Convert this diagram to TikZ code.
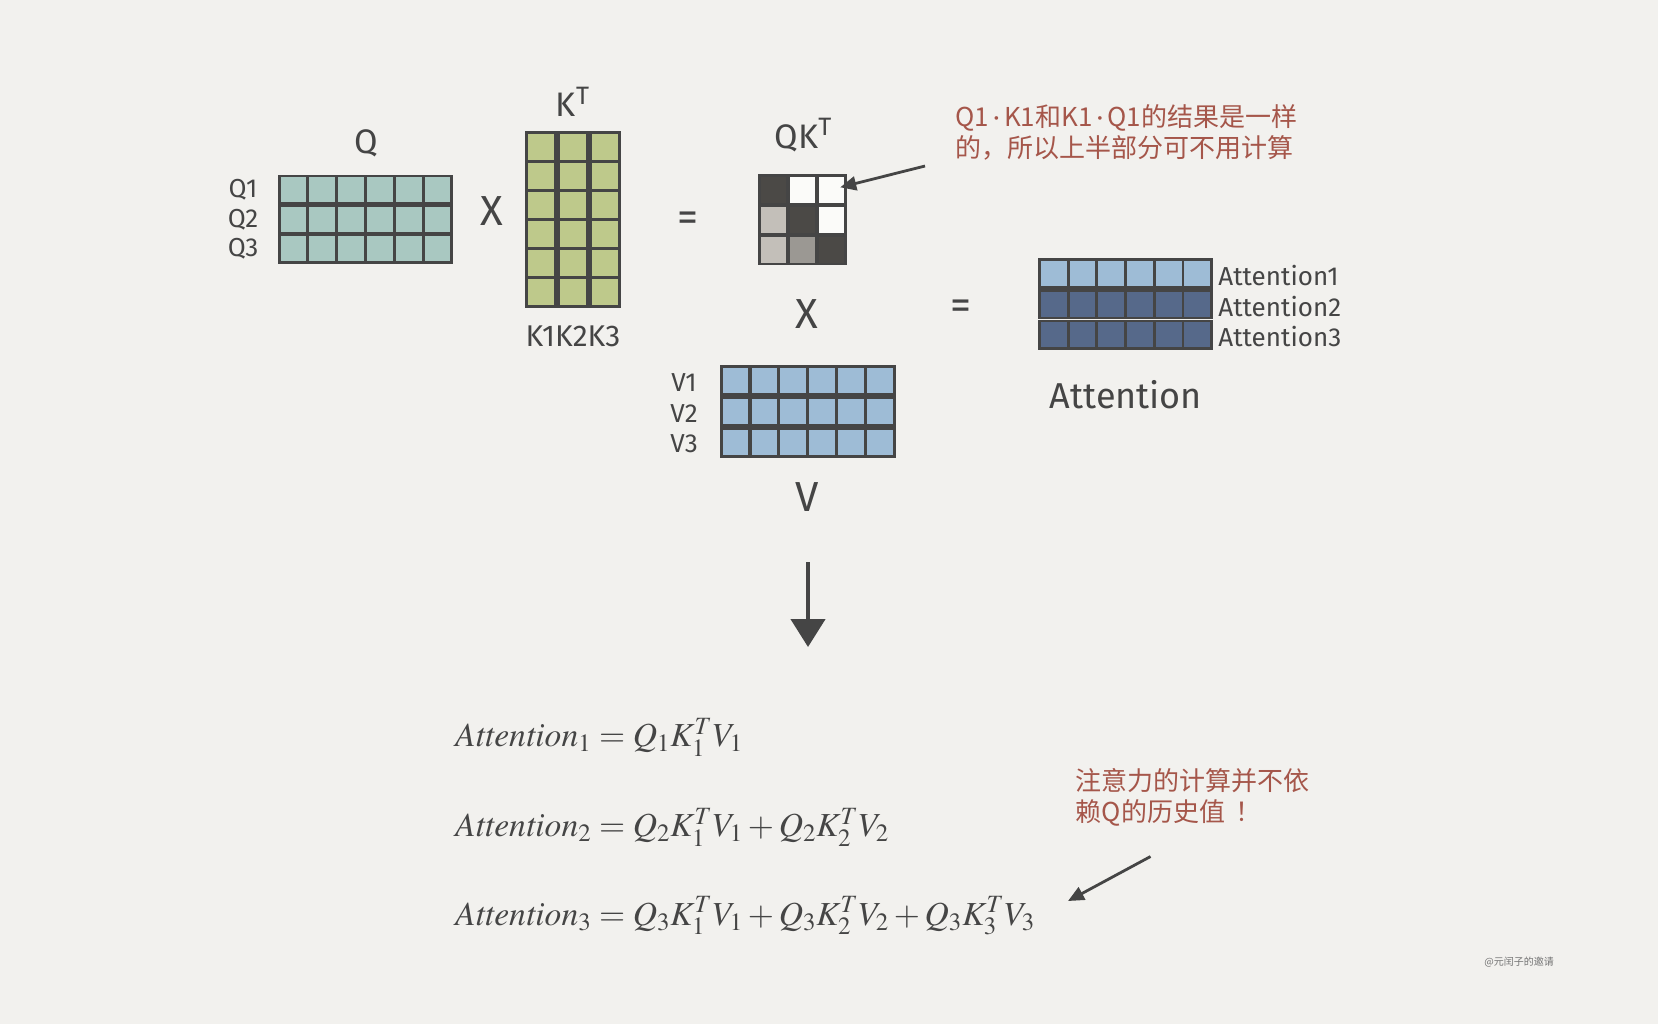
\documentclass[tikz,border=0pt]{standalone}
\usepackage{mathptmx}
\usepackage[no-math]{fontspec}
\setmainfont{Fira Sans}
\newfontfamily\cjk{Noto Sans CJK SC}
\usetikzlibrary{arrows.meta, calc}
\definecolor{paper}{HTML}{F2F1EE}
\definecolor{inkGray}{HTML}{454545}
\definecolor{noteRed}{HTML}{A5564A}
\definecolor{qTeal}{HTML}{A9C8C1}
\definecolor{kOlive}{HTML}{BEC98B}
\definecolor{vBlue}{HTML}{9EBCD6}
\definecolor{attDark}{HTML}{56698A}
\definecolor{qkDark}{HTML}{4B4946}
\definecolor{qkMid}{HTML}{9B9893}
\definecolor{qkLight}{HTML}{C3BFB9}
\definecolor{qkWhite}{HTML}{FBFBF9}

\begin{document}
\begin{tikzpicture}[
    x=0.5pt, y=-0.5pt,
    cell/.style={draw=inkGray, line width=1.3pt, minimum width=14.2pt, minimum height=13.8pt, inner sep=0pt, outer sep=0pt},
    qcell/.style={cell, fill=qTeal},
    kcell/.style={cell, fill=kOlive, minimum width=14.5pt, minimum height=14.3pt},
    vcell/.style={cell, fill=vBlue},
    lbl/.style={text=inkGray, font=\fontsize{13}{15}\selectfont, inner sep=0pt},
    big/.style={text=inkGray, font=\fontsize{17}{19}\selectfont, inner sep=0pt},
    sign/.style={text=inkGray, font=\fontsize{21}{23}\selectfont, inner sep=0pt},
    eqn/.style={text=inkGray, font=\fontsize{16.8}{20}\selectfont, inner sep=0pt, anchor=west},
    note/.style={text=noteRed, font=\cjk\fontsize{13}{15.5}\selectfont, align=left, inner sep=0pt, anchor=north west},
    arr/.style={-{Triangle[length=8pt, width=7pt]}, line width=1.4pt, color=inkGray},
]
    % 纸张背景
    \fill[paper] (0,0) rectangle (1658,1024);

    % Q 矩阵（3 行 x 6 列）
    \node[big] (qname) at (366,143) {Q};
    \foreach \r in {1,2,3}{
        \node[lbl] (qlab-\r) at (243,{190+29.3*(\r-1)}) {Q\r};
        \foreach \c in {1,...,6}
            \node[qcell] (q-\r-\c) at ({293.4+28.8*(\c-1)},{189.85+29.3*(\r-1)}) {};
    }
    \node[sign] (times1) at (491.7,211.5) {X};

    % K^T 矩阵（6 行 x 3 列，列间留缝）
    \node[big] (kname) at (573,102) {K\textsuperscript{T}};
    \foreach \c in {1,2,3}
        \foreach \r in {1,...,6}
            \node[kcell] (k-\r-\c) at ({541.1+32*(\c-1)},{146.6+29.1*(\r-1)}) {};
    \node[lbl, font=\fontsize{15}{17}\selectfont] (kcols) at (573,336) {K1K2K3};
    \node[sign] (eq1) at (688,222) {=};

    % QK^T 结果：下三角
    \node[big] (qkname) at (803.6,135) {QK\textsuperscript{T}};
    \foreach \r/\c/\col in {1/1/qkDark, 1/2/qkWhite, 1/3/qkWhite,
                            2/1/qkLight, 2/2/qkDark, 2/3/qkWhite,
                            3/1/qkLight, 3/2/qkMid, 3/3/qkDark}
        \node[cell, fill=\col, minimum height=14.3pt] (qk-\r-\c) at ({773.5+29*(\c-1)},{189.5+30*(\r-1)}) {};
    \node[sign] (times2) at (806.8,314) {X};
    \node[sign] (eq2) at (961,310) {=};

    % V 矩阵
    \foreach \r in {1,2,3}{
        \node[lbl] (vlab-\r) at (684,{382.8+30.6*(\r-1)}) {V\r};
        \foreach \c in {1,...,6}
            \node[vcell] (v-\r-\c) at ({735.5+28.93*(\c-1)},{380.5+31*(\r-1)}) {};
    }
    \node[sign] (vname) at (806.8,497) {V};

    % Attention 结果
    \foreach \r/\col in {1/vBlue, 2/attDark, 3/attDark}{
        \foreach \c in {1,...,6}
            \node[cell, fill=\col] (a-\r-\c) at ({1053.8+28.7*(\c-1)},{273.5+30.7*(\r-1)}) {};
        \node[lbl, anchor=west] (alab-\r) at (1218,{276+30.2*(\r-1)}) {Attention\r};
    }
    \node[text=inkGray, font=\fontsize{18}{21}\selectfont, inner sep=0pt] (aname) at (1126,394.4) {Attention};

    % 注释 1
    \node[note] (note1) at (955,104) {Q1{\rmfamily\,·\,}K1和K1{\rmfamily\,·\,}Q1的结果是一样\\的，所以上半部分可不用计算};
    \coordinate (tail1) at (925,166);
    \draw[arr, shorten >=4.5pt] (tail1) -- (qk-1-3.center);

    % 向下箭头
    \coordinate (down-top) at (808,562);
    \coordinate (down-tip) at (808,647);
    \draw[-{Triangle[length=14pt, width=17pt]}, line width=2.2pt, color=inkGray] (down-top) -- (down-tip);

    % 公式
    \node[eqn] (att1) at (454.7,737) {$\mathit{Attention}_1 = Q_1K_1^TV_1$};
    \node[eqn] (att2) at (454.7,827) {$\mathit{Attention}_2 = Q_2K_1^TV_1 + Q_2K_2^TV_2$};
    \node[eqn] (att3) at (454.7,916) {$\mathit{Attention}_3 = Q_3K_1^TV_1 + Q_3K_2^TV_2 + Q_3K_3^TV_3$};

    % 注释 2
    \node[note] (note2) at (1075.4,768) {注意力的计算并不依\\赖Q的历史值\hspace{5pt}！};
    \coordinate (tail2) at (1150.5,856.5);
    \coordinate (tip2) at (1068,901);
    \draw[arr] (tail2) -- (tip2);

    % 水印
    \node[text=black!55, font=\cjk\fontsize{5}{6}\selectfont, inner sep=0pt] (mark) at (1519,962) {@元闰子的邀请};
\end{tikzpicture}
\end{document}
